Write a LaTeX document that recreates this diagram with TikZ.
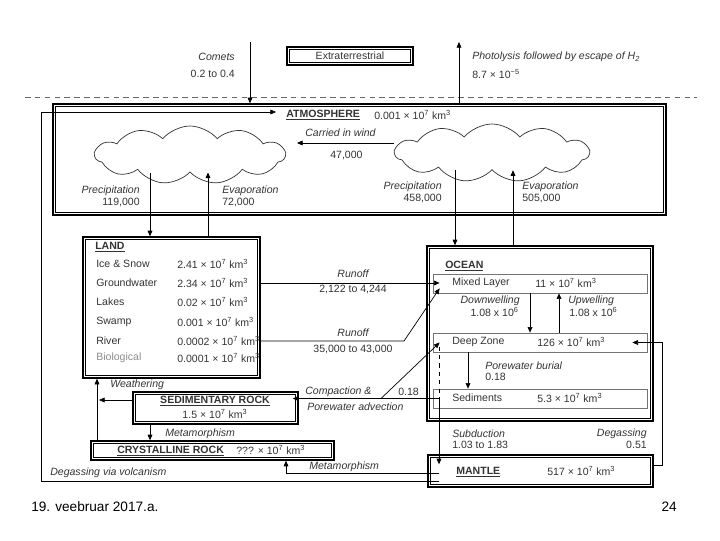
\documentclass[tikz,border=0pt]{standalone}
\usepackage{fontspec}
\setmainfont{Liberation Sans}
\usetikzlibrary{arrows.meta,shapes.symbols,calc}

\begin{document}
\begin{tikzpicture}[x=0.025cm,y=-0.025cm]
	\tikzstyle{every node}+=[inner sep=0pt, text=black!80, font=\fontsize{7.5}{9}\selectfont]
	\tikzstyle{bigbox}=[draw=black, line width=1pt, append after command={\pgfextra{\draw[line width=0.4pt] ($(\tikzlastnode.south west)+(2.2pt,2.2pt)$) rectangle ($(\tikzlastnode.north east)+(-2.2pt,-2.2pt)$);}}]
	\tikzstyle{subbox}=[draw=black!55, line width=0.5pt]
	\tikzstyle{puff}=[draw=black!80, shape=cloud, cloud puffs=11, cloud puff arc=100, cloud ignores aspect, line width=0.5pt]
	\tikzstyle{arr}=[draw=black, line width=0.5pt, -{Triangle[length=4pt,width=3.4pt]}]
	\tikzstyle{lab}=[font=\fontsize{7.5}{9}\selectfont\itshape]
	\useasboundingbox (0,0) rectangle (720,540);
	% boxes
	\node[bigbox, minimum width=3.15cm, minimum height=0.45cm] (extra) at (350,56) {Extraterrestrial};
	\draw[black!60, dash pattern=on 4pt off 3pt] (25,97) -- (697,97);
	\node[bigbox, minimum width=15.325cm, minimum height=2.775cm] (atm) at (359.5,159.5) {};
	\node[puff, minimum width=4.75cm, minimum height=1.45cm] (lcloud) at (190,155) {};
	\node[puff, minimum width=4.85cm, minimum height=1.45cm] (rcloud) at (492,153) {};
	\node[bigbox, minimum width=4.425cm, minimum height=3.525cm] (land) at (171.5,307.5) {};
	\node[bigbox, minimum width=5.65cm, minimum height=4.375cm] (ocean) at (540,333.5) {};
	\node[subbox, minimum width=5.35cm, minimum height=0.475cm] (mixed) at (540,283.5) {};
	\node[subbox, minimum width=5.35cm, minimum height=0.475cm] (deep) at (540,342.5) {};
	\node[subbox, minimum width=5.35cm, minimum height=0.475cm] (sed) at (540,398.5) {};
	\node[bigbox, minimum width=4.125cm, minimum height=0.8cm] (sedrock) at (215.5,408) {};
	\node[bigbox, minimum width=6.075cm, minimum height=0.475cm] (crys) at (212.5,450.5) {};
	\node[bigbox, minimum width=5.625cm, minimum height=0.8cm] (mantle) at (540.5,471) {};
	% extraterrestrial fluxes
	\coordinate (comet) at (250,42);
	\coordinate (escape) at (459,42);
	\draw[arr] (comet) -- (comet |- atm.north);
	\draw[arr] (escape |- atm.north) -- (escape);
	\node[lab, anchor=east] (cometlab) at (235,57) {Comets};
	\node[anchor=east] (cometval) at (235,74) {0.2 to 0.4};
	\node[lab, anchor=west] (photolab) at (472,57) {Photolysis followed by escape of H\textsubscript{2}};
	\node[anchor=west] (photoval) at (472,74) {8.7 × 10\textsuperscript{−5}};
	% atmosphere
	\node[anchor=west] (atmlab) at (286,115) {\textbf{\underline{ATMOSPHERE}}};
	\node[anchor=west] (atmval) at (374,115) {0.001 × 10\textsuperscript{7} km\textsuperscript{3}};
	\node[lab, anchor=west] (windlab) at (305,133) {Carried in wind};
	\node[anchor=west] (windval) at (330,155) {47,000};
	\draw[arr] (rcloud.west |- 0,143) -- (297,143);
	\node[lab, anchor=east] (lprlab) at (140,191) {Precipitation};
	\node[anchor=east] (lprval) at (140,202) {119,000};
	\node[lab, anchor=west] (levlab) at (222,191) {Evaporation};
	\node[anchor=west] (levval) at (222,202) {72,000};
	\node[lab, anchor=east] (oprlab) at (442,187) {Precipitation};
	\node[anchor=east] (oprval) at (442,198) {458,000};
	\node[lab, anchor=west] (oevlab) at (522,187) {Evaporation};
	\node[anchor=west] (oevval) at (522,198) {505,000};
	\draw[arr] (lcloud.south -| 150,0) -- (land.north -| 150,0);
	\draw[arr] (land.north -| 208,0) -- (lcloud.south -| 208,0);
	\draw[arr] (rcloud.south -| 455,0) -- (ocean.north -| 455,0);
	\draw[arr] (ocean.north -| 513,0) -- (rcloud.south -| 513,0);
	% land
	\node[anchor=west] (landlab) at (95,247) {\textbf{\underline{LAND}}};
	\node[anchor=west] (ice) at (96,264) {Ice \& Snow};
	\node[anchor=west] (icev) at (177,264) {2.41 × 10\textsuperscript{7} km\textsuperscript{3}};
	\node[anchor=west] (gw) at (96,283) {Groundwater};
	\node[anchor=west] (gwv) at (177,283) {2.34 × 10\textsuperscript{7} km\textsuperscript{3}};
	\node[anchor=west] (lakes) at (96,302) {Lakes};
	\node[anchor=west] (lakesv) at (177,302) {0.02 × 10\textsuperscript{7} km\textsuperscript{3}};
	\node[anchor=west] (swamp) at (96,322) {Swamp};
	\node[anchor=west] (swampv) at (177,322) {0.001 × 10\textsuperscript{7} km\textsuperscript{3}};
	\node[anchor=west] (river) at (96,341) {River};
	\node[anchor=west] (riverv) at (177,341) {0.0002 × 10\textsuperscript{7} km\textsuperscript{3}};
	\node[anchor=west, text=black!45] (bio) at (96,358) {Biological};
	\node[anchor=west] (biov) at (177,358) {0.0001 × 10\textsuperscript{7} km\textsuperscript{3}};
	% runoff
	\draw[arr] (land.east |- gwv) -- ($(mixed.west |- gwv)+(7,0)$);
	\draw[arr] (land.east |- riverv) -- (404,341) -- ($(mixed.south west)+(7,-5)$);
	\node[lab] (run1) at (353,274) {Runoff};
	\node (run1v) at (353,289) {2,122 to 4,244};
	\node[lab] (run2) at (353,333) {Runoff};
	\node (run2v) at (353,349) {35,000 to 43,000};
	% ocean
	\node[anchor=west] (oceanlab) at (445,266) {\textbf{\underline{OCEAN}}};
	\node[anchor=west] (mixedlab) at (452,283) {Mixed Layer};
	\node[anchor=west] (mixedval) at (535,283) {11 × 10\textsuperscript{7} km\textsuperscript{3}};
	\node[anchor=west] (deeplab) at (452,342) {Deep Zone};
	\node[anchor=west] (deepval) at (537,342) {126 × 10\textsuperscript{7} km\textsuperscript{3}};
	\node[anchor=west] (sedlab) at (452,398) {Sediments};
	\node[anchor=west] (sedval) at (537,398) {5.3 × 10\textsuperscript{7} km\textsuperscript{3}};
	\draw[arr] (mixed.south -| 530,0) -- (deep.north -| 530,0);
	\draw[arr] (deep.north -| 559,0) -- (mixed.south -| 559,0);
	\node[lab, anchor=east] (downlab) at (520,301) {Downwelling};
	\node[anchor=east] (downval) at (519,312) {1.08 x 10\textsuperscript{6}};
	\node[lab, anchor=west] (uplab) at (568,301) {Upwelling};
	\node[anchor=west] (upval) at (569,312) {1.08 x 10\textsuperscript{6}};
	\draw[arr] (deep.south -| 468,0) -- (sed.north -| 468,0);
	\node[lab, anchor=west] (burlab) at (485,366) {Porewater burial};
	\node[anchor=west] (burval) at (485,377) {0.18};
	\draw[dashed] ($(deep.center -| 439,0)+(0,4)$) -- (sed.center -| 439,0);
	% compaction and subduction
	\coordinate (adv) at (381,398.5);
	\draw[arr] ($(sed.west)+(6,0)$) -- ($(sedrock.east |- sed.west)+(-6,0)$);
	\draw[arr] (adv) -- ($(deep.west)+(7,0)$);
	\node[lab, anchor=west] (complab) at (305,392) {Compaction \&};
	\node[anchor=west] (compval) at (398,392) {0.18};
	\node[lab, anchor=west] (advlab) at (307,407) {Porewater advection};
	\draw[arr] (sed.center -| 439,0) -- ($(mantle.north -| 439,0)+(0,10)$);
	\node[lab, anchor=west] (sublab) at (452,434) {Subduction};
	\node[anchor=west] (subval) at (452,445) {1.03 to 1.83};
	\node[lab, anchor=east] (deglab) at (647,434) {Degassing};
	\node[anchor=east] (degval) at (647,445) {0.51};
	\draw[arr] (mantle.east |- 0,465) -- (662,465) -- (662,342.5) -- ($(deep.east)+(-15,0)$);
	% mantle
	\node[anchor=west] (mantlelab) at (456,472) {\textbf{\underline{MANTLE}}};
	\node[anchor=west] (mantleval) at (547,471) {517 × 10\textsuperscript{7} km\textsuperscript{3}};
	% rocks
	\node (sedrocklab) at (215,401) {\textbf{\underline{SEDIMENTARY ROCK}}};
	\node (sedrockval) at (215,414) {1.5 × 10\textsuperscript{7} km\textsuperscript{3}};
	\node[anchor=west] (cryslab) at (117,451) {\textbf{\underline{CRYSTALLINE ROCK}}};
	\node[anchor=west] (crysval) at (236,450) {??? × 10\textsuperscript{7} km\textsuperscript{3}};
	\coordinate (wbase) at (97,441);
	\draw[arr] (wbase) -- (land.south -| wbase);
	\draw[arr] (sedrock.west |- 0,400) -- ($(wbase |- 0,400)+(2,0)$);
	\node[lab, anchor=west] (weathlab) at (110,385) {Weathering};
	\draw[arr] (sedrock.south -| 150,0) -- (crys.north -| 150,0);
	\node[lab, anchor=west] (meta1) at (165,434) {Metamorphism};
	\draw[arr] ($(mantle.west |- 0,473)+(12,0)$) -- (286,473) -- (crys.south -| 286,0);
	\node[lab, anchor=west] (meta2) at (309,467) {Metamorphism};
	\draw[arr] ($(mantle.west |- 0,481)+(12,0)$) -- (41,481) -- (41,112) -- (276,112);
	\node[lab, anchor=west] (volclab) at (50,473) {Degassing via volcanism};
	% footer
	\node[anchor=base west, text=black, font=\fontsize{9.7}{12}\selectfont] (date) at (31,511) {19. veebruar 2017.a.};
	\node[anchor=base east, text=black, font=\fontsize{9.7}{12}\selectfont] (page) at (677,511) {24};
\end{tikzpicture}
\end{document}
